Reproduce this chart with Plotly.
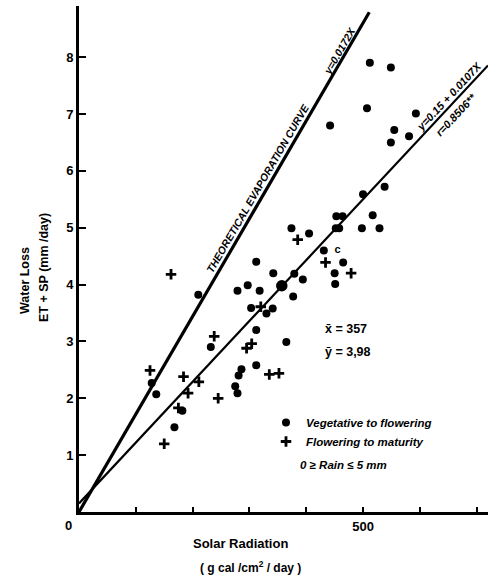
import math
import plotly.graph_objects as go

# Vegetative to flowering: solar radiation (g cal/cm2/day) vs water loss (mm/day)
veg_x = [128, 136, 168, 182, 210, 232, 279, 297, 275, 279, 281, 286, 312, 342,
         318, 303, 330, 341, 312, 365, 312, 377, 379, 394, 374, 405, 431, 465,
         450, 451, 453, 464, 452, 458, 498, 529, 517, 500, 538, 512, 549, 507,
         442, 593, 555, 549, 581]
veg_y = [2.27, 2.07, 1.49, 1.78, 3.82, 2.90, 3.89, 3.99, 2.21, 2.09, 2.40, 2.51,
         4.40, 4.20, 3.89, 3.59, 3.49, 3.58, 3.20, 2.99, 2.58, 3.79, 4.19, 4.09,
         4.99, 4.90, 4.60, 4.39, 4.20, 4.01, 5.20, 5.20, 4.99, 4.99, 4.99, 4.99,
         5.22, 5.59, 5.72, 7.90, 7.82, 7.10, 6.80, 7.01, 6.72, 6.50, 6.61]

# Flowering to maturity
flo_x = [125, 150, 175, 184, 192, 211, 162, 238, 245, 295, 304, 320, 335, 352,
         385, 434, 479]
flo_y = [2.49, 1.20, 1.83, 2.38, 2.09, 2.29, 4.18, 3.09, 2.00, 2.88, 2.96, 3.61,
         2.42, 2.44, 4.79, 4.39, 4.20]

# partially printed observation
odd_x = [455]
odd_y = [4.61]

# means
mean_x = 357
mean_y = 3.98

# fitted lines
theo_slope = 0.0172
reg_a, reg_b = 0.15, 0.0107
theo_x = [0, 511]
reg_x = [0, 720]

y_ticks = [1, 2, 3, 4, 5, 6, 7, 8]
x_label_ticks = [500]
x_minor_ticks = [100, 200, 300, 400, 600, 700]

W, H = 488, 577
ML, MR, MT, MB = 79, 0, 6, 65
XR = [0, 720]
YR = [0, 8.9]
PW, PH = W - ML - MR, H - MT - MB
sx = PW / (XR[1] - XR[0])
sy = PH / (YR[1] - YR[0])

FONT = "Liberation Sans"


def paper(px, py):
    return (px - ML) / PW, (H - MB - py) / PH


def along_line(a, b, x, perp):
    """Annotation anchored on y=a+bx at x, shifted perp pixels (positive = upper-left)."""
    dx, dy = sx, b * sy
    n = math.hypot(dx, dy)
    ux, uy = dx / n, dy / n          # along (screen, y up)
    nx, ny = -uy, ux                  # normal, upper-left
    ang = -math.degrees(math.atan2(dy, dx))
    return dict(x=x, y=a + b * x, xref="x", yref="y", xshift=nx * perp,
                yshift=ny * perp, textangle=ang, showarrow=False)


fig = go.Figure()

fig.add_trace(go.Scatter(x=theo_x, y=[theo_slope * v for v in theo_x], mode="lines",
                         line=dict(color="black", width=3.2), showlegend=False,
                         hoverinfo="skip"))
fig.add_trace(go.Scatter(x=reg_x, y=[reg_a + reg_b * v for v in reg_x], mode="lines",
                         line=dict(color="black", width=2.2), showlegend=False,
                         hoverinfo="skip"))

fig.add_trace(go.Scatter(x=veg_x, y=veg_y, mode="markers", name="Vegetative to flowering",
                         marker=dict(symbol="circle", size=8, color="black")))
fig.add_trace(go.Scatter(x=flo_x, y=flo_y, mode="markers", name="Flowering to maturity",
                         marker=dict(symbol="cross-thin", size=7.5,
                                     line=dict(color="black", width=2.8))))
fig.add_trace(go.Scatter(x=[mean_x], y=[mean_y], mode="markers", showlegend=False,
                         marker=dict(symbol="circle", size=11.5, color="black")))
fig.add_trace(go.Scatter(x=odd_x, y=odd_y, mode="text", text=["<b>c</b>"], showlegend=False,
                         textfont=dict(family=FONT, size=11, color="black")))

ann = []
base = dict(family=FONT, color="black")

# line labels
ann.append(dict(text="<b><i>THEORETICAL EVAPORATION CURVE</i></b>",
                font=dict(base, size=10.5),
                **along_line(0, theo_slope, 327, 8)))
ann.append(dict(text="<b><i>y=0.0172X</i></b>", font=dict(base, size=10.5),
                **along_line(0, theo_slope, 468, 6.5)))
ann.append(dict(text="<b><i>y=0.15 + 0.0107X</i></b>", font=dict(base, size=11),
                **along_line(reg_a, reg_b, 660, 8)))
ann.append(dict(text="<b><i>r=0.8506**</i></b>", font=dict(base, size=11),
                **along_line(reg_a, reg_b, 650, -10)))

# axis titles
for txt, px, py, rot, size in [
    ("Water Loss", 25, 281, -90, 12.5),
    ("ET + SP (mm /day)", 44, 268, -90, 12.5),
    ("Solar Radiation", 240, 543, 0, 13),
    ("( g cal /cm<sup>2</sup> / day )", 250, 567, 0, 12),
    ("0", 68, 525, 0, 13),
]:
    x, y = paper(px, py)
    ann.append(dict(text="<b>%s</b>" % txt, x=x, y=y, xref="paper", yref="paper",
                    showarrow=False, textangle=rot, xanchor="center", yanchor="middle",
                    font=dict(base, size=size)))

# means
for txt, py in [("x\u0304 = %d" % mean_x, 329),
                ("y\u0304 = %s" % str(mean_y).replace(".", ","), 352)]:
    x, y = paper(323, py)
    ann.append(dict(text="<b>%s</b>" % txt, x=x, y=y, xref="paper", yref="paper",
                    showarrow=False, xanchor="left", yanchor="middle",
                    font=dict(base, size=12.5)))

x, y = paper(298, 465)
ann.append(dict(text="<b><i>0 \u2265 Rain \u2264 5 mm</i></b>", x=x, y=y, xref="paper",
                yref="paper", showarrow=False, xanchor="left", yanchor="middle",
                font=dict(base, size=11.5)))

lx, ly = paper(266, 408)

fig.update_layout(
    width=W, height=H,
    margin=dict(l=ML, r=MR, t=MT, b=MB, pad=0),
    plot_bgcolor="white", paper_bgcolor="white",
    font=dict(family=FONT, color="black"),
    showlegend=True,
    legend=dict(x=lx, y=ly, xanchor="left", yanchor="top", bgcolor="rgba(0,0,0,0)",
                font=dict(base, size=11.5, weight="bold", style="italic"), itemwidth=30,
                tracegroupgap=0),
    annotations=ann,
    xaxis=dict(range=XR, showline=True, linewidth=3, linecolor="black", ticks="inside",
               ticklen=5, tickwidth=2, tickcolor="black", tickvals=x_label_ticks,
               showgrid=False, zeroline=False,
               tickfont=dict(base, size=13, weight="bold"),
               minor=dict(tickvals=x_minor_ticks, ticks="inside", ticklen=5,
                          tickwidth=2, tickcolor="black", showgrid=False)),
    yaxis=dict(range=YR, showline=True, linewidth=3, linecolor="black", ticks="inside",
               ticklen=7, tickwidth=2, tickcolor="black", tickvals=y_ticks,
               showgrid=False, zeroline=False, tickfont=dict(base, size=13, weight="bold")),
)

fig.write_html("out.html")
